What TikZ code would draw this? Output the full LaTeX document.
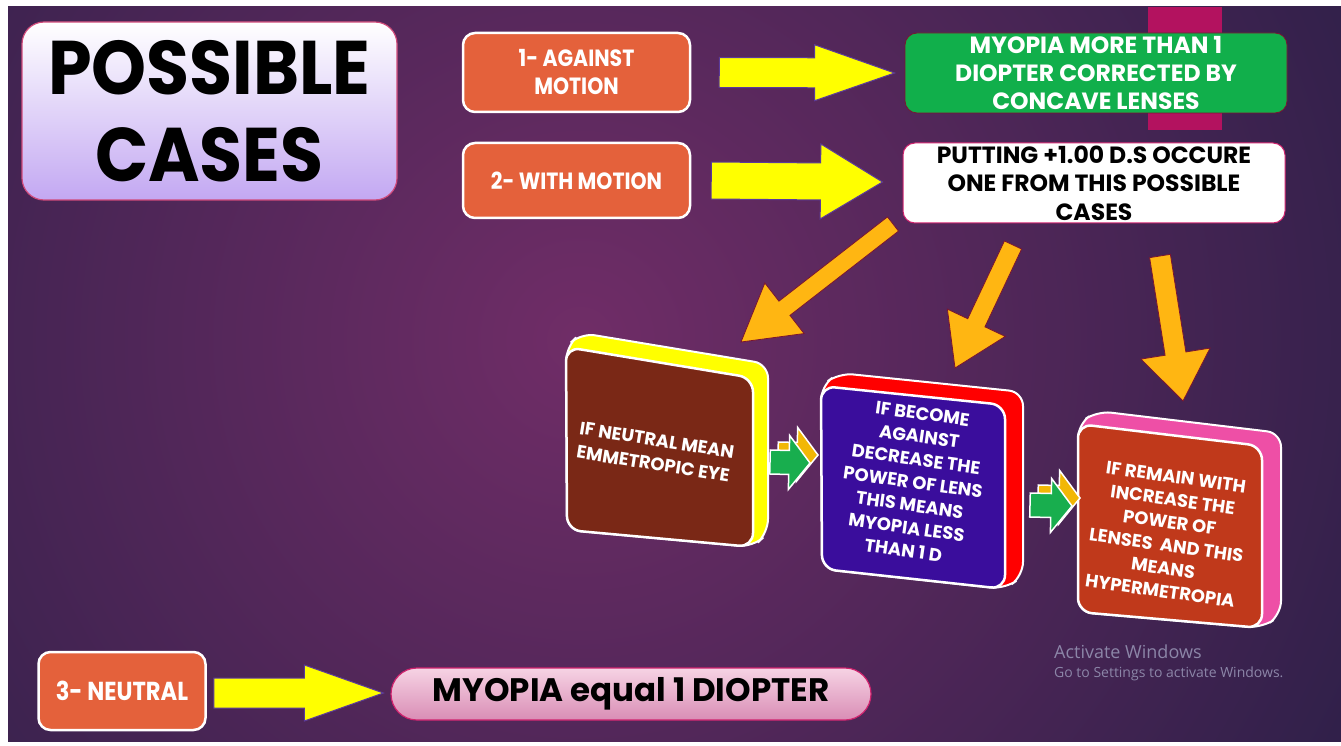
\documentclass[tikz,border=0pt]{standalone}
\usepackage{fontspec}
\usetikzlibrary{calc}
\setmainfont{Poppins}
\newfontfamily\condfont[FakeStretch=0.87]{Poppins}
\newfontfamily\titlefont[FakeStretch=0.92]{Poppins}
\newfontfamily\winfont{Open Sans}
\definecolor{bgdark}{HTML}{261E45}
\definecolor{bgmid}{HTML}{702D67}
\definecolor{boxorange}{HTML}{E4613B}
\definecolor{boxgreen}{HTML}{11AF4B}
\definecolor{magbar}{HTML}{B3125F}
\definecolor{arrowyellow}{HTML}{FFFF00}
\definecolor{yedge}{HTML}{5B3A9A}
\definecolor{gold}{HTML}{FFB612}
\definecolor{goldedge}{HTML}{7A1530}
\definecolor{brownface}{HTML}{7A2816}
\definecolor{indigoface}{HTML}{3A0D9C}
\definecolor{redside}{HTML}{FF0000}
\definecolor{rustface}{HTML}{C0391B}
\definecolor{pinkside}{HTML}{EE4FA6}
\definecolor{smallgreen}{HTML}{18AE4E}
\definecolor{smallside}{HTML}{F2B705}
\definecolor{pilltop}{HTML}{F6D3E4}
\definecolor{pillbot}{HTML}{D98DB5}
\definecolor{pilledge}{HTML}{D0236E}
\definecolor{titlebot}{HTML}{C3A8F2}
\definecolor{titleedge}{HTML}{D04A7A}
\definecolor{wintext}{HTML}{8C86A8}
\newcommand\blockarrow[6]{%
  \coordinate (ba-h) at ($(#3)!#6!(#2)$);
  \path[#1] ($(#2)!#4!90:(#3)$) -- ($(ba-h)!#4!90:(#3)$) -- ($(ba-h)!#5!90:(#3)$)
    -- (#3) -- ($(ba-h)!#5!-90:(#3)$) -- ($(ba-h)!#4!-90:(#3)$) -- ($(#2)!#4!-90:(#3)$) -- cycle;
}
\newcommand\threedbox[7]{%
  \path[fill=#2, draw=white, line width=2pt, rounded corners=14pt]
    ($#3+#7$) -- ($#4+#7$) -- ($#5+#7$) -- #5 -- #6 -- #3 -- cycle;
  \path[fill=#1, draw=white, line width=2.5pt, rounded corners=14pt]
    #3 -- #4 -- #5 -- #6 -- cycle;
}
\begin{document}
\begin{tikzpicture}[x=1pt,y=-1pt,
  obox/.style={draw=white, line width=2.5pt, fill=boxorange, rounded corners=12pt,
    text=white, font=\condfont\bfseries\fontsize{23.5}{28}\selectfont, align=center, inner sep=0pt},
  yarrow/.style={fill=arrowyellow, draw=yedge, line width=1pt},
  garrow/.style={fill=gold, draw=goldedge, line width=0.8pt},
  sarrow/.style={fill=smallgreen, draw=white, line width=1.5pt},
  sside/.style={fill=smallside, draw=white, line width=1.5pt},
  cubetext/.style={text=white, font=\bfseries\fontsize{18}{23}\selectfont, align=center, inner sep=0pt}]
\useasboundingbox (0,0) rectangle (1341,746);
\fill[white] (0,0) rectangle (1341,746);
\begin{scope}
  \clip (8,7) rectangle (1341,741);
  \fill[bgdark] (8,7) rectangle (1341,741);
  \shade[inner color=bgmid, outer color=bgdark] (580,340) circle (1000pt);
\end{scope}
% magenta bar behind green box
\fill[magbar] (1148,7) rectangle (1222,130);
% title
\node[draw=titleedge, line width=1.2pt, rounded corners=22pt, top color=white, bottom color=titlebot,
  minimum width=375pt, minimum height=178pt, inner sep=0pt, align=center,
  font=\titlefont\bfseries\fontsize{76}{87}\selectfont] (title) at (209.5,111) {POSSIBLE\\CASES};
% left boxes
\node[obox, minimum width=227pt, minimum height=79pt] (b1) at (576.5,72.5) {1- AGAINST\\MOTION};
\node[obox, minimum width=227pt, minimum height=75pt] (b2) at (576.5,180.5) {2- WITH MOTION};
\node[obox, minimum width=167pt, minimum height=78pt, font=\condfont\bfseries\fontsize{26}{30}\selectfont] (b3) at (122,691) {3- NEUTRAL};
% right boxes
\node[fill=boxgreen, draw=goldedge, line width=0.8pt, rounded corners=12pt, minimum width=382pt, minimum height=80pt,
  inner sep=0pt, align=center, text=white, font=\bfseries\fontsize{23.5}{28}\selectfont]
  (g1) at (1096,73) {MYOPIA MORE THAN 1\\DIOPTER CORRECTED BY\\CONCAVE LENSES};
\node[fill=white, draw=pilledge, line width=1pt, rounded corners=12pt, minimum width=382pt, minimum height=80pt,
  inner sep=0pt, align=center, text=black, font=\bfseries\fontsize{23.5}{28.5}\selectfont]
  (w1) at (1094,183) {PUTTING +1.00 D.S OCCURE\\ONE FROM THIS POSSIBLE\\CASES};
\node[draw=pilledge, line width=1.2pt, rounded corners=26pt, top color=pilltop, bottom color=pillbot,
  minimum width=480pt, minimum height=52pt, inner sep=0pt,
  font=\bfseries\fontsize{32.5}{34}\selectfont] (pill) at (631,694) {MYOPIA equal 1 DIOPTER};
% yellow arrows
\coordinate (y1s) at ($(b1.east)+(28,0)$);
\coordinate (y1e) at ($(g1.west)+(-10,0)$);
\blockarrow{yarrow}{y1s}{y1e}{15pt}{28pt}{80pt}
\coordinate (y2s) at ($(b2.east)+(20,0)$);
\coordinate (y2e) at ($(w1.west)+(-20,-1)$);
\blockarrow{yarrow}{y2s}{y2e}{18.5pt}{37.5pt}{62pt}
\coordinate (y3s) at ($(b3.east)+(7,2)$);
\coordinate (y3e) at ($(pill.west)+(-7,-1)$);
\blockarrow{yarrow}{y3s}{y3e}{15pt}{28pt}{79pt}
% 3D boxes
\threedbox{brownface}{arrowyellow}{(566,347)}{(753,378)}{(753,547)}{(567,530)}{(15,-14)}
\threedbox{indigoface}{redside}{(821,386)}{(1005,405)}{(1005,589)}{(822,569)}{(18,-13)}
\threedbox{rustface}{pinkside}{(1078,424)}{(1262,446)}{(1262,628)}{(1078,612)}{(19,-13)}
\node[cubetext, rotate=-9, font=\bfseries\fontsize{18}{24}\selectfont] (ta) at (655,452) {IF NEUTRAL MEAN\\EMMETROPIC EYE};
\node[cubetext, rotate=-8] (tb) at (913,482) {IF BECOME\\AGAINST\\DECREASE THE\\POWER OF LENS\\THIS MEANS\\MYOPIA LESS\\THAN 1 D};
\node[cubetext, rotate=-8] (tc) at (1168,534) {IF REMAIN WITH\\INCREASE THE\\POWER OF\\LENSES\ \ AND THIS\\MEANS\\HYPERMETROPIA};
% orange arrows
\coordinate (o1s) at (893,224);
\coordinate (o1e) at (741,342);
\blockarrow{garrow}{o1s}{o1e}{9pt}{32pt}{55pt}
\coordinate (o2s) at (1013,245);
\coordinate (o2e) at (955,368);
\blockarrow{garrow}{o2s}{o2e}{9.5pt}{32pt}{50pt}
\coordinate (o3s) at (1160,256);
\coordinate (o3e) at (1183,401);
\blockarrow{garrow}{o3s}{o3e}{10.5pt}{35pt}{48pt}
% small green arrows
\coordinate (s1s) at (770,462);
\coordinate (s1e) at (810,463);
\coordinate (s1sb) at ($(s1s)+(8,-8)$);
\coordinate (s1eb) at ($(s1e)+(8,-8)$);
\blockarrow{sside}{s1sb}{s1eb}{12pt}{27pt}{21pt}
\blockarrow{sarrow}{s1s}{s1e}{12pt}{27pt}{21pt}
\coordinate (s2s) at (1030,505);
\coordinate (s2e) at (1072,506);
\coordinate (s2sb) at ($(s2s)+(8,-8)$);
\coordinate (s2eb) at ($(s2e)+(8,-8)$);
\blockarrow{sside}{s2sb}{s2eb}{12pt}{27pt}{21pt}
\blockarrow{sarrow}{s2s}{s2e}{12pt}{27pt}{21pt}
% watermark text
\node[anchor=west, inner sep=0pt, text=wintext, font=\winfont\fontsize{18}{20}\selectfont] (aw) at (1054,652) {Activate Windows};
\node[anchor=west, inner sep=0pt, text=wintext, font=\winfont\fontsize{14}{16}\selectfont] (gs) at (1054,674) {Go to Settings to activate Windows.};
\end{tikzpicture}
\end{document}
